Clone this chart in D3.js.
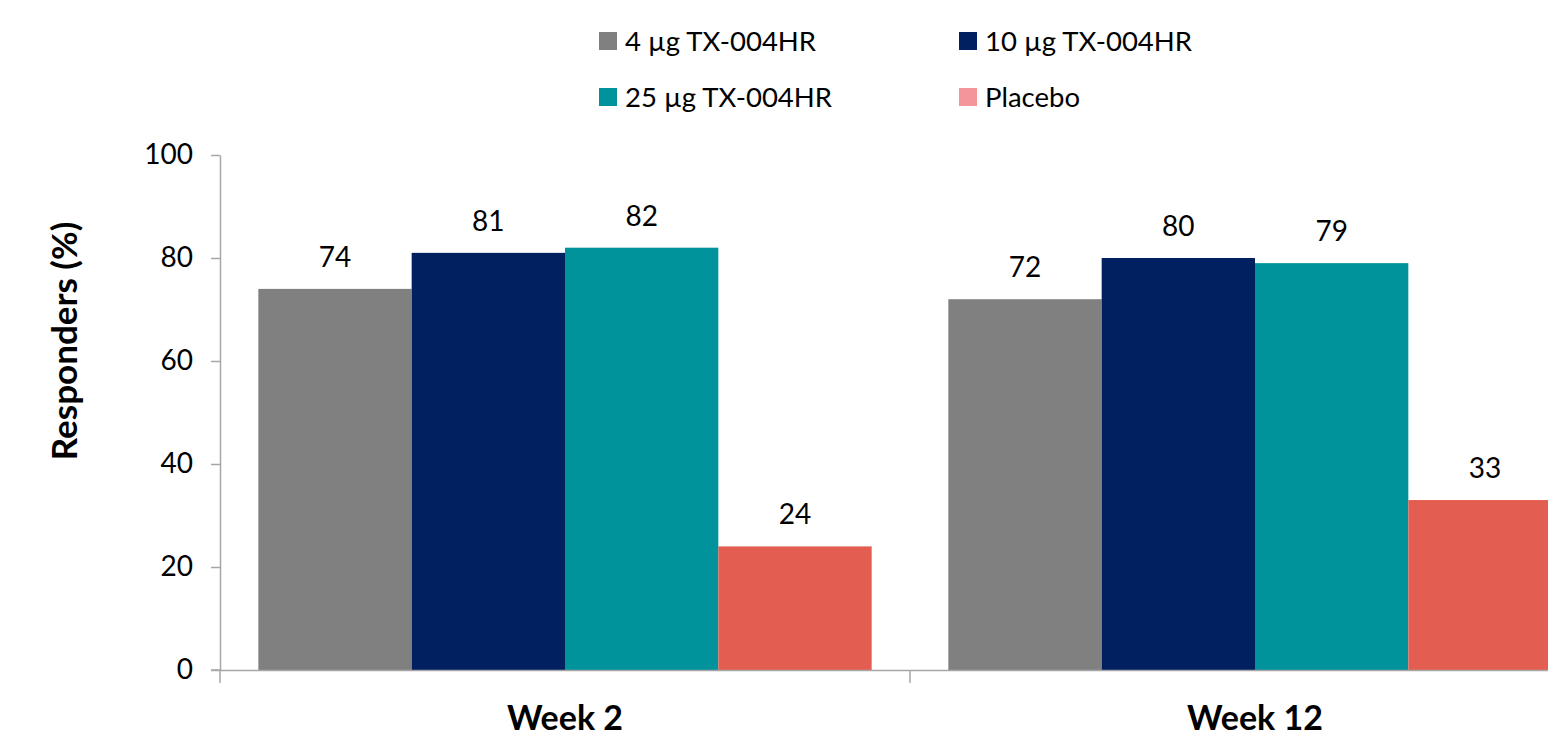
<!DOCTYPE html>
<html>
<head>
<meta charset="utf-8">
<script src="https://cdn.jsdelivr.net/npm/d3@7/dist/d3.min.js"></script>
<style>
  html, body { margin: 0; padding: 0; background: #fff; }
  svg { display: block; font-family: Lato, "Open Sans", sans-serif; }
</style>
</head>
<body>
<svg id="chart" width="1548" height="736"></svg>
<script>
// Responder rates by dose group at each visit
const categories = ["Week 2", "Week 12"];
const seriesNames = ["4 µg TX-004HR", "10 µg TX-004HR", "25 µg TX-004HR", "Placebo"];
const week2Values = [74, 81, 82, 24];
const week12Values = [72, 80, 79, 33];
const yTicks = [0, 20, 40, 60, 80, 100];

const barColors = ["#808080", "#002060", "#00939b", "#e35e50"];
const legendColors = ["#808080", "#002060", "#00939b", "#f4959a"];

const seriesValues = [week2Values, week12Values];
const data = categories.map((c, i) => ({
  category: c,
  values: seriesNames.map((s, j) => ({ series: s, value: seriesValues[i][j], idx: j }))
}));

const svg = d3.select("#chart");
const margin = { left: 220, top: 155, bottom: 670, right: 1600 };
const fontFamily = "Lato, 'Open Sans', sans-serif";

const x0 = d3.scaleBand().domain(categories).range([margin.left, margin.right]).padding(0);
const x1 = d3.scaleBand().domain(seriesNames).range([0, x0.bandwidth()])
  .paddingInner(0).paddingOuter(0.25);
const y = d3.scaleLinear().domain([0, 100]).range([margin.bottom, margin.top]);

const axisColor = "#a6a6a6";

// Bars
const groups = svg.append("g").selectAll("g").data(data).join("g")
  .attr("transform", d => `translate(${x0(d.category)},0)`);

groups.selectAll("rect").data(d => d.values).join("rect")
  .attr("x", d => x1(d.series))
  .attr("y", d => y(d.value))
  .attr("width", x1.bandwidth())
  .attr("height", d => y(0) - y(d.value))
  .attr("fill", d => barColors[d.idx]);

// Value labels
groups.selectAll("text").data(d => d.values).join("text")
  .attr("x", d => x1(d.series) + x1.bandwidth() / 2)
  .attr("y", d => y(d.value) - 22)
  .attr("text-anchor", "middle")
  .attr("font-size", 28)
  .attr("fill", "#000")
  .text(d => d.value);

// Y axis
const yAxis = svg.append("g")
  .attr("transform", `translate(${margin.left},0)`)
  .call(d3.axisLeft(y).tickValues(yTicks).tickSize(9).tickSizeOuter(0).tickPadding(18));
yAxis.select(".domain").attr("stroke", axisColor).attr("stroke-width", 1.5);
yAxis.selectAll(".tick line").attr("stroke", axisColor).attr("stroke-width", 1.5);
yAxis.selectAll(".tick text").attr("font-size", 28).attr("fill", "#000")
  .attr("font-family", fontFamily);

// X axis
const xAxis = svg.append("g")
  .attr("transform", `translate(0,${margin.bottom})`)
  .call(d3.axisBottom(x0).tickSize(0).tickSizeOuter(0).tickPadding(36));
xAxis.select(".domain").attr("stroke", axisColor).attr("stroke-width", 1.5);
xAxis.selectAll(".tick text").attr("font-size", 34).attr("font-weight", "bold").attr("fill", "#000")
  .attr("font-family", fontFamily);

// Category boundary ticks
const boundaries = [margin.left, ...categories.slice(1).map(c => x0(c)), margin.right];
svg.append("g").selectAll("line").data(boundaries).join("line")
  .attr("x1", d => d).attr("x2", d => d)
  .attr("y1", margin.bottom).attr("y2", margin.bottom + 13)
  .attr("stroke", axisColor).attr("stroke-width", 1.5);
// Extend baseline to meet the left tick marks
svg.append("line")
  .attr("x1", margin.left - 9).attr("x2", margin.left)
  .attr("y1", margin.bottom).attr("y2", margin.bottom)
  .attr("stroke", axisColor).attr("stroke-width", 1.5);

// Y axis title
svg.append("text")
  .attr("transform", "translate(77,341) rotate(-90)")
  .attr("text-anchor", "middle")
  .attr("font-size", 35)
  .attr("font-weight", "bold")
  .attr("fill", "#000")
  .text("Responders (%)");

// Legend: two columns, two rows
const legendCols = [599, 959];
const legendRows = [41, 97];
const legend = svg.append("g").selectAll("g").data(seriesNames).join("g")
  .attr("transform", (d, i) => `translate(${legendCols[i % 2]},${legendRows[Math.floor(i / 2)]})`);
legend.append("rect")
  .attr("x", 0).attr("y", -9).attr("width", 18).attr("height", 18)
  .attr("fill", (d, i) => legendColors[i]);
legend.append("text")
  .attr("x", 26).attr("y", 0).attr("dy", "0.35em")
  .attr("font-size", 27.5).attr("fill", "#000")
  .text(d => d);
</script>
</body>
</html>
